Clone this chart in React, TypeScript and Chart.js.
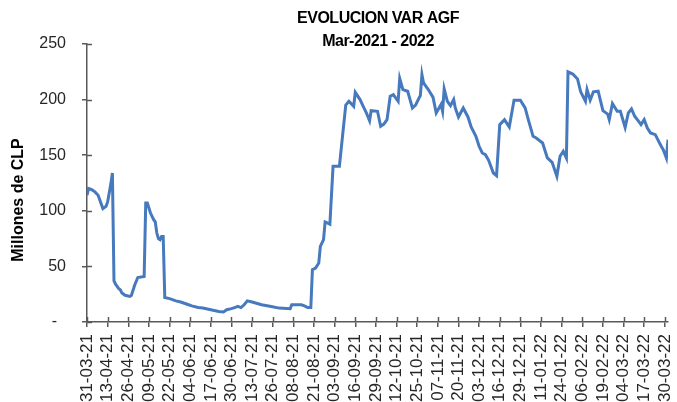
import React, { useEffect, useRef } from "react";
import { Chart, registerables } from "chart.js";

Chart.register(...registerables);

const TITLE_LINES = ["EVOLUCION VAR AGF", "Mar-2021 - 2022"];
const Y_TITLE = "Millones de CLP";

const tickLabels = [
  "31-03-21", "13-04-21", "26-04-21", "09-05-21", "22-05-21", "04-06-21", "17-06-21",
  "30-06-21", "13-07-21", "26-07-21", "08-08-21", "21-08-21", "03-09-21", "16-09-21",
  "29-09-21", "12-10-21", "25-10-21", "07-11-21", "20-11-21", "03-12-21", "16-12-21",
  "29-12-21", "11-01-22", "24-01-22", "06-02-22", "19-02-22", "04-03-22", "17-03-22",
  "30-03-22",
];

// day offset from 31-03-21
const days = [
  0, 1, 3, 5, 7, 9, 10, 12, 13, 14, 15, 16, 17, 18, 19, 20, 21, 22, 24, 27, 28, 30, 32, 36,
  37, 38, 40, 42, 43, 44, 45, 46, 47, 48, 49, 52, 56, 59, 64, 66, 70, 73, 78, 83, 86, 88,
  91, 93, 95, 97, 99, 101, 104, 110, 116, 121, 128, 129, 135, 137, 139, 141, 142, 144, 146,
  147, 149, 150, 153, 155, 159, 163, 165, 168, 169, 172, 174, 176, 178, 179, 183, 185, 187,
  189, 191, 193, 196, 197, 199, 202, 205, 207, 209, 210, 211, 212, 215, 218, 220, 223, 224,
  225, 227, 229, 231, 232, 234, 237, 240, 242, 245, 247, 249, 251, 253, 256, 258, 260, 263,
  266, 269, 273, 276, 278, 281, 283, 287, 290, 293, 296, 298, 300, 302, 303, 306, 309, 311,
  314, 315, 317, 319, 322, 325, 328, 329, 331, 334, 336, 339, 341, 343, 345, 348, 349, 351,
  353, 355, 358, 361, 362, 363, 365, 366,
];

const varValues = [
  114, 120, 119, 117, 114, 106, 102, 104, 108, 116, 124, 134, 37, 34, 32, 30, 29, 26, 24, 23,
  24, 33, 40, 41, 107, 107, 98, 92, 90, 80, 75, 74, 77, 77, 22, 21, 19, 18, 15.5, 14.5, 13,
  12.5, 11, 9.5, 9, 11, 12, 13, 14, 13, 15.5, 19, 18, 15.5, 14, 12.5, 12, 15.5, 15.5, 14.5,
  13, 13, 47, 48.5, 53, 68, 74, 90, 88, 140, 140, 195, 198.5, 194, 206.5, 200, 194, 188,
  181, 190, 189.5, 176, 178, 182, 203, 204.5, 198.5, 219, 209, 207.5, 192.5, 195, 201,
  203.6, 222.5, 215, 209, 202, 188, 195.5, 189.5, 209.6, 198.5, 194.5, 200, 192.5, 184.4,
  192.5, 184.4, 175.4, 167, 158, 152, 150.5, 145.4, 134, 131.6, 177.5, 182, 175.4, 199.4,
  199.4, 192.5, 182, 167, 165.5, 161, 147.5, 143.6, 131, 149, 153.5, 147.5, 225, 223, 218.6,
  207, 198.5, 209, 199.5, 207, 207.5, 190, 187, 182, 196.5, 189.5, 189.5, 175, 188, 191.6,
  185, 179.5, 177.5, 182, 174.5, 170, 168.5, 160, 157.4, 155, 147.5, 164,
];

const yTicks = [0, 50, 100, 150, 200, 250];

const FONT = '"Liberation Sans", Arial, sans-serif';
const AXIS_COLOR = "#595959";
const TEXT_COLOR = "#262626";
const LINE_COLOR = "#4679BD";

const W = 677;
const H = 440;

const decorPlugin = {
  id: "decor",
  afterDraw(chart: any) {
    const ctx = chart.ctx;
    const { left, bottom } = chart.chartArea;
    ctx.save();
    ctx.strokeStyle = AXIS_COLOR;
    ctx.lineWidth = 1.5;
    const ys = chart.scales.y;
    ys.ticks.forEach((t: any) => {
      const y = Math.round(ys.getPixelForValue(t.value)) + 0.5;
      ctx.beginPath();
      ctx.moveTo(left, y);
      ctx.lineTo(left + 5, y);
      ctx.stroke();
    });
    const xs = chart.scales.x;
    xs.ticks.forEach((t: any) => {
      const x = Math.round(xs.getPixelForValue(t.value)) + 0.5;
      ctx.beginPath();
      ctx.moveTo(x, bottom);
      ctx.lineTo(x, bottom - 5);
      ctx.stroke();
    });
    ctx.fillStyle = "#000";
    ctx.textAlign = "center";
    ctx.textBaseline = "middle";
    ctx.font = "bold 16px " + FONT;
    try {
      (ctx as any).letterSpacing = "-0.5px";
    } catch (e) {}
    ctx.fillText(TITLE_LINES[0], 378, 19);
    ctx.fillText(TITLE_LINES[1], 378, 42);
    try {
      (ctx as any).letterSpacing = "0px";
    } catch (e) {}
    ctx.translate(19, 200);
    ctx.rotate(-Math.PI / 2);
    ctx.fillText(Y_TITLE, 0, 0);
    ctx.restore();
  },
};

export default function App() {
  const ref = useRef<HTMLCanvasElement>(null);
  useEffect(() => {
    document.body.style.margin = "0";
    const chart = new Chart(ref.current as HTMLCanvasElement, {
      type: "line",
      data: {
        datasets: [
          {
            data: days.map((d, i) => ({ x: d, y: varValues[i] })),
            borderColor: LINE_COLOR,
            borderWidth: 3,
            pointRadius: 0,
            tension: 0,
            fill: false,
          },
        ],
      },
      options: {
        animation: false,
        responsive: false,
        devicePixelRatio: 1,
        layout: { padding: { top: 44, right: 9, left: 0, bottom: 0 } },
        plugins: { legend: { display: false }, title: { display: false }, tooltip: { enabled: false } },
        scales: {
          x: {
            type: "linear",
            min: 0,
            max: 366,
            afterBuildTicks: (axis: any) => {
              axis.ticks = tickLabels.map((_, i) => ({ value: i * 13 }));
            },
            afterFit: (scale: any) => {
              scale.height = H - 322;
              scale.paddingLeft = 0;
              scale.paddingRight = 0;
            },
            ticks: {
              autoSkip: false,
              minRotation: 90,
              maxRotation: 90,
              padding: 7,
              color: TEXT_COLOR,
              font: { family: FONT, size: 17 },
              callback: (v: any) => tickLabels[Math.round(Number(v) / 13)] ?? "",
            },
            grid: { drawOnChartArea: false, drawTicks: true, tickLength: 5, color: AXIS_COLOR, lineWidth: 1.5 },
            border: { color: AXIS_COLOR, width: 1.5 },
          },
          y: {
            min: 0,
            max: 250,
            afterBuildTicks: (axis: any) => {
              axis.ticks = yTicks.map((v) => ({ value: v }));
            },
            afterFit: (scale: any) => {
              scale.width = 87;
              scale.paddingTop = 0;
              scale.paddingBottom = 0;
            },
            ticks: {
              padding: 16,
              color: TEXT_COLOR,
              font: { family: FONT, size: 16 },
              callback: (v: any) => (Number(v) === 0 ? "-  " : String(v)),
            },
            grid: { drawOnChartArea: false, drawTicks: true, tickLength: 5, color: AXIS_COLOR, lineWidth: 1.5 },
            border: { color: AXIS_COLOR, width: 1.5 },
          },
        },
      },
      plugins: [decorPlugin],
    });
    return () => chart.destroy();
  }, []);
  return (
    <div style={{ width: W, height: 402, overflow: "hidden", background: "#fff" }}>
      <canvas ref={ref} width={W} height={H} style={{ display: "block", width: W, height: H }} />
    </div>
  );
}
